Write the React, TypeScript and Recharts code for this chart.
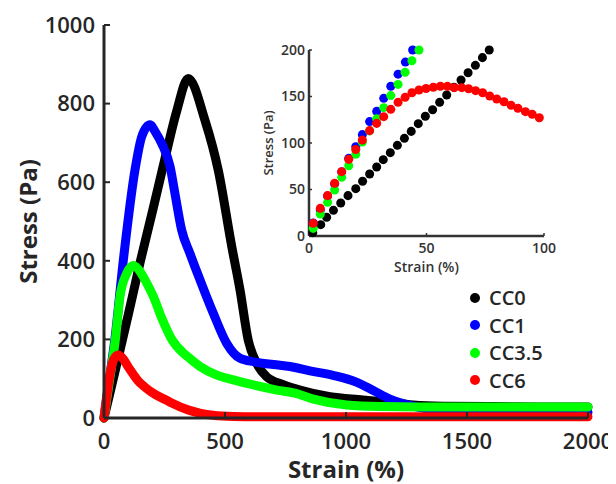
import { LineChart, Line, XAxis, YAxis, Legend, ScatterChart, Scatter, ZAxis } from "recharts"

// main plot
const cc0Strain = [0, 50, 100, 150, 200, 250, 300, 348, 417, 472, 528, 562, 596, 631, 672, 741, 810, 934, 1070, 1168, 1277, 1400, 1600, 1800, 2000]
const cc0Stress = [0, 130, 262, 398, 525, 655, 780, 864, 758, 631, 436, 326, 198, 139, 105, 85, 71, 54, 46, 40, 33, 30, 29, 28, 28]

const cc1Strain = [0, 20, 45, 80, 128, 156, 190, 215, 238, 273, 293, 321, 355, 397, 452, 507, 562, 620, 700, 769, 851, 950, 1040, 1113, 1182, 1264, 1350, 1500, 1750, 2000]
const cc1Stress = [0, 90, 200, 402, 631, 716, 746, 725, 699, 640, 572, 478, 419, 351, 266, 190, 152, 143, 136, 131, 120, 108, 92, 70, 48, 32, 22, 17, 15, 14]

const cc35Strain = [0, 20, 47, 66, 94, 121, 150, 175, 204, 238, 280, 328, 348, 397, 466, 534, 617, 714, 789, 865, 1003, 1140, 1300, 1600, 2000]
const cc35Stress = [0, 85, 200, 309, 368, 388, 372, 345, 309, 255, 200, 165, 155, 131, 109, 97, 84, 71, 63, 48, 33, 29, 28, 28, 28]

const cc6Strain = [0, 20, 40, 59, 80, 100, 120, 140, 170, 211, 259, 280, 350, 400, 450, 534, 700, 1000, 1500, 2000]
const cc6Stress = [0, 93, 149, 160, 150, 130, 112, 95, 78, 60, 45, 38, 20, 12, 7, 4, 3, 3, 3, 3]

// inset, one value per dot
const inCc0Strain = [1.6, 5.0, 7.5, 10.4, 13.5, 16.6, 19.9, 22.8, 25.8, 28.8, 31.6, 34.6, 37.6, 40.6, 43.5, 46.5, 49.5, 52.6, 55.6, 58.6, 61.7, 64.7, 67.7, 70.8, 73.8, 76.7]
const inCc0Stress = [3.6, 12.2, 20.1, 27.6, 35.5, 43.4, 50.9, 58.8, 66.7, 74.2, 82.1, 89.6, 97.5, 105, 112.5, 120.8, 128.7, 135.8, 143.7, 151.6, 159.9, 167.7, 175.6, 183.5, 191.8, 200]

const inCc1Strain = [1.8, 4.8, 7.9, 10.9, 13.9, 16.9, 19.9, 22.7, 25.8, 28.8, 31.8, 34.8, 37.9, 41.0, 44.1]
const inCc1Stress = [14, 28, 43, 56, 69, 83.5, 96, 109, 123, 134, 148, 161, 174, 187, 200]

const inCc35Strain = [1.8, 4.8, 7.9, 10.9, 13.9, 16.9, 19.9, 22.7, 25.8, 28.8, 31.8, 34.8, 37.9, 40.9, 43.8, 46.8]
const inCc35Stress = [8.2, 23.7, 36.2, 49.5, 63.1, 75.6, 87.8, 101, 113, 126, 138, 151, 163, 176, 188.5, 200]

const inCc6Strain = [1.8, 4.8, 7.9, 10.9, 13.9, 16.9, 19.9, 22.7, 25.8, 28.8, 31.8, 34.8, 37.9, 40.9, 43.8, 46.8, 49.8, 52.9, 55.9, 58.9, 61.8, 65.0, 67.9, 70.9, 73.9, 76.9, 79.9, 83.0, 86.0, 88.9, 92.1, 95.0, 98.0]
const inCc6Stress = [13.6, 29.7, 43.4, 56.6, 69.2, 82.4, 93, 103.2, 113.3, 121.1, 128.3, 136.2, 143.7, 149.1, 154.1, 157, 158.6, 159.9, 161, 160.9, 159.5, 159.5, 158.4, 156.3, 154.1, 150.5, 147.3, 144.4, 140.5, 137.3, 133.7, 130.8, 127.2]

const seriesNames = ["CC0", "CC1", "CC3.5", "CC6"]
const seriesColors = ["#000000", "#0000ff", "#00ff00", "#ff0000"]

const strainTicks = [0, 500, 1000, 1500, 2000]
const stressTicks = [0, 200, 400, 600, 800, 1000]
const inStrainTicks = [0, 50, 100]
const inStressTicks = [0, 50, 100, 150, 200]

const zip = (xs: number[], ys: number[]) => xs.map((x, i) => ({ strain: x, stress: ys[i] }))

const mainData = [zip(cc0Strain, cc0Stress), zip(cc1Strain, cc1Stress), zip(cc35Strain, cc35Stress), zip(cc6Strain, cc6Stress)]
const insetData = [zip(inCc0Strain, inCc0Stress), zip(inCc1Strain, inCc1Stress), zip(inCc35Strain, inCc35Stress), zip(inCc6Strain, inCc6Stress)]

const FONT = '"Open Sans", sans-serif'
const INK = "#262626"
const mainAxisLine = { stroke: INK, strokeWidth: 3 }
const mainTickLine = { stroke: INK, strokeWidth: 2 }
const mainTick = { fontSize: 22, fontWeight: 600, fill: INK, fontFamily: FONT }
const insetAxisLine = { stroke: "#333", strokeWidth: 2.5 }
const insetTickLine = { stroke: "#333", strokeWidth: 1.5 }
const insetTick = { fontSize: 14, fontWeight: 600, fill: "#333", fontFamily: FONT }

function LegendBox({ payload }: any) {
  return (
    <div style={{ fontFamily: FONT, fontSize: 20, fontWeight: 600, color: INK }}>
      {(payload || []).map((p: any) => (
        <div key={p.value} style={{ display: "flex", alignItems: "center", height: 27.5 }}>
          <span style={{ width: 10, height: 10, borderRadius: 5, background: p.color, marginRight: 9 }} />
          <span>{p.value}</span>
        </div>
      ))}
    </div>
  )
}

export default function App() {
  return (
    <div style={{ position: "relative", width: 608, height: 476, fontFamily: FONT }}>
      <LineChart width={608} height={476} margin={{ top: 17, right: 28, left: 0, bottom: 0 }}>
        <XAxis
          type="number"
          dataKey="strain"
          domain={[0, 2000]}
          ticks={strainTicks}
          height={66}
          tickSize={-6}
          tickMargin={21}
          axisLine={mainAxisLine}
          tickLine={mainTickLine}
          tick={mainTick}
          label={{ value: "Strain (%)", position: "insideBottom", offset: 6, style: { fontSize: 24, fontWeight: 700, fill: INK, fontFamily: FONT } }}
        />
        <XAxis xAxisId="top" orientation="top" type="number" domain={[0, 2000]} ticks={strainTicks} height={0} tickSize={-6} axisLine={mainAxisLine} tickLine={mainTickLine} tick={false} />
        <YAxis
          type="number"
          domain={[0, 1000]}
          ticks={stressTicks}
          width={96}
          tickSize={-6}
          tickMargin={15}
          axisLine={mainAxisLine}
          tickLine={mainTickLine}
          tick={mainTick}
          label={{ value: "Stress (Pa)", angle: -90, position: "insideLeft", offset: 20, style: { textAnchor: "middle", fontSize: 24, fontWeight: 700, fill: INK, fontFamily: FONT } }}
        />
        <YAxis yAxisId="right" orientation="right" type="number" domain={[0, 1000]} ticks={stressTicks} width={0} tickSize={-6} axisLine={mainAxisLine} tickLine={mainTickLine} tick={false} />
        {mainData.map((d, i) => (
          <Line
            key={seriesNames[i]}
            data={d}
            dataKey="stress"
            name={seriesNames[i]}
            type="monotone"
            stroke={seriesColors[i]}
            strokeWidth={9}
            strokeLinecap="round"
            strokeLinejoin="round"
            dot={false}
            activeDot={false}
            isAnimationActive={false}
          />
        ))}
        <Legend
          layout="vertical"
          align="center"
          verticalAlign="middle"
          content={<LegendBox />}
          wrapperStyle={{ left: 462, top: 276, width: 120 }}
        />
      </LineChart>

      <div style={{ position: "absolute", left: 250, top: 30 }}>
        <ScatterChart width={300} height={250} margin={{ top: 12, right: 14, left: 0, bottom: 0 }}>
          <XAxis
            type="number"
            dataKey="strain"
            domain={[0, 100]}
            ticks={inStrainTicks}
            height={52}
            tickSize={-3}
            tickMargin={10}
            axisLine={insetAxisLine}
            tickLine={insetTickLine}
            tick={insetTick}
            label={{ value: "Strain (%)", position: "insideBottom", offset: 16, style: { fontSize: 14, fontWeight: 600, fill: "#333", fontFamily: FONT } }}
          />
          <XAxis xAxisId="top" orientation="top" type="number" domain={[0, 100]} ticks={inStrainTicks} height={0} tickSize={-3} axisLine={insetAxisLine} tickLine={insetTickLine} tick={false} />
          <YAxis
            type="number"
            dataKey="stress"
            domain={[0, 200]}
            ticks={inStressTicks}
            width={51}
            tickSize={-3}
            tickMargin={7}
            axisLine={insetAxisLine}
            tickLine={insetTickLine}
            tick={insetTick}
            label={{ value: "Stress (Pa)", angle: -90, position: "insideLeft", offset: 10, style: { textAnchor: "middle", fontSize: 13, fontWeight: 600, fill: "#333", fontFamily: FONT } }}
          />
          <YAxis yAxisId="right" orientation="right" type="number" domain={[0, 200]} ticks={inStressTicks} width={0} tickSize={-3} axisLine={insetAxisLine} tickLine={insetTickLine} tick={false} />
          <ZAxis range={[30, 30]} />
          {insetData.map((d, i) => (
            <Scatter key={seriesNames[i]} data={d} name={seriesNames[i]} fill={seriesColors[i]} isAnimationActive={false} />
          ))}
        </ScatterChart>
      </div>
    </div>
  )
}
